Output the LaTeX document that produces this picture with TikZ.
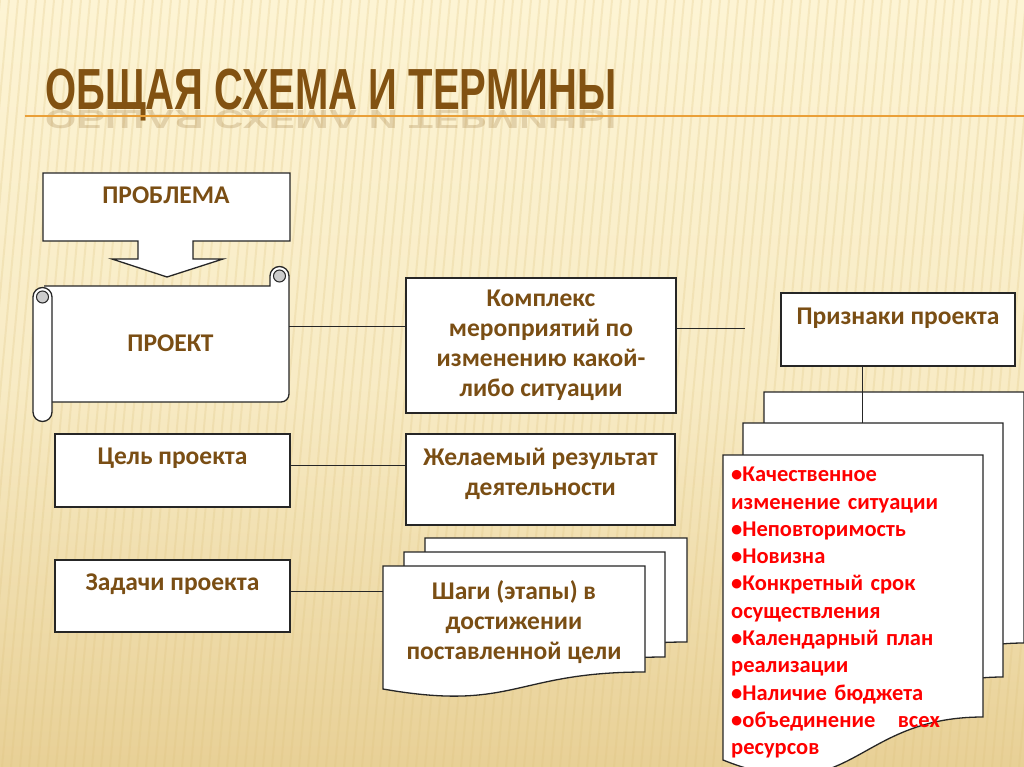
\documentclass[tikz,border=0pt]{standalone}
\usepackage{fontspec}
\setmainfont{Carlito}
\newfontfamily\titlefont{Liberation Sans}
\usetikzlibrary{positioning}

\definecolor{bgtop}{RGB}{253,244,212}
\definecolor{bgbot}{RGB}{232,208,150}
\definecolor{stripe}{RGB}{222,196,128}
\definecolor{txtbrown}{RGB}{122,78,20}
\definecolor{ttlbrown}{RGB}{130,82,18}
\definecolor{ttlline}{RGB}{234,160,56}
\definecolor{listred}{RGB}{255,0,0}

\tikzset{
  box/.style={draw=black!85, fill=white, line width=1.3pt, inner sep=0pt},
  lbl/.style={font=\bfseries\fontsize{25.5}{30}\selectfont, text=txtbrown, align=center, inner sep=2pt},
  doc/.style={draw=black!85, fill=white, line width=1.3pt},
  link/.style={draw=black!85, line width=1pt},
  redlist/.style={font=\bfseries\fontsize{22.5}{27.3}\selectfont, text=listred, align=left, text width=250pt, inner sep=0pt}
}

\begin{document}
\begin{tikzpicture}[x=1pt, y=-1pt]
    \useasboundingbox (0,0) rectangle (1024,767);
    \clip (0,0) rectangle (1024,767);
    %фон
    \shade[top color=bgtop, bottom color=bgbot, middle color=bgtop!75!bgbot] (0,0) rectangle (1024,767);
    \foreach \x in {0,9,...,1120}
        \draw[stripe, opacity=0.25, line width=2pt] (\x,0) -- (\x-70,767);
    %заголовок
    \node[anchor=base west, inner sep=0pt, text=ttlbrown, text opacity=0.2, font=\titlefont\bfseries\fontsize{58}{58}\selectfont] (titleR) at (45,111) {\scalebox{0.69}[-0.45]{ОБЩАЯ СХЕМА И ТЕРМИНЫ}};
    \node[anchor=base west, inner sep=0pt, text=ttlbrown, font=\titlefont\bfseries\fontsize{58}{58}\selectfont] (title) at (45,110) {\scalebox{0.69}[1]{ОБЩАЯ СХЕМА И ТЕРМИНЫ}};
    \draw[ttlline, line width=2.5pt] (25,116) -- (1024,116);
    %проблема со стрелкой
    \draw[doc] (43,173) -- (290,173) -- (290,241) -- (193,241) -- (193,259) -- (223,259) -- (167,277) -- (112,259) -- (138,259) -- (138,241) -- (43,241) -- cycle;
    \node[lbl] (problem) at (166,195) {ПРОБЛЕМА};
    %проект (свиток)
    \draw[doc] (52,402) -- (281,402) arc[start angle=90, end angle=0, radius=8] -- (289,276) arc[start angle=0, end angle=-180, radius=9.5] -- (270,286) -- (44,286);
    \filldraw[fill=black!20, draw=black!85, line width=1pt] (279.5,276) circle (6);
    \draw[doc] (33,297) -- (33,412) arc[start angle=180, end angle=0, radius=9.5] -- (52,297) arc[start angle=0, end angle=-180, radius=9.5] -- cycle;
    \filldraw[fill=black!20, draw=black!85, line width=1pt] (42.5,297) circle (6);
    \node[lbl, minimum width=237, minimum height=116] (project) at (170.5,343) {ПРОЕКТ};
    %цель и задачи
    \node[box, minimum width=235, minimum height=73] (goal) at (172.5,470.5) {};
    \node[lbl, below=12pt of goal.north] (goalT) {Цель проекта};
    \node[box, minimum width=235, minimum height=72] (tasks) at (172.5,596) {};
    \node[lbl, below=12pt of tasks.north] (tasksT) {Задачи проекта};
    %определения
    \node[box, lbl, minimum width=270, minimum height=135] (complex) at (541,345.5) {Комплекс\\мероприятий по\\изменению какой-\\либо ситуации};
    \node[box, minimum width=269, minimum height=91] (result) at (540.5,479.5) {};
    \node[lbl] (resultT) at ([yshift=6pt]result.center) {Желаемый результат\\деятельности};
    %шаги (стопка документов)
    \draw[doc] (425,538) -- (687,538) -- (687,642) .. controls (556,642) and (556,682) .. (425,659) -- cycle;
    \draw[doc] (404,552) -- (665,552) -- (665,657) .. controls (534.5,657) and (534.5,697) .. (404,674) -- cycle;
    \draw[doc] (383,566) -- (645,566) -- (645,672) .. controls (514,672) and (514,712) .. (383,689) -- cycle;
    \node[lbl] (steps) at (514,622) {Шаги (этапы) в\\достижении\\поставленной цели};
    \coordinate (stepsL) at (383,591);
    %признаки
    \node[box, minimum width=234, minimum height=73] (signs) at (898,329.5) {};
    \node[lbl, below=13pt of signs.north] (signsT) {Признаки проекта};
    \coordinate (signsL) at (745,328);
    \draw[doc] (764,392) -- (1024,392) -- (1024,643) .. controls (894,643) and (894,738) .. (764,684) -- cycle;
    \draw[doc] (743,423) -- (1003,423) -- (1003,677) .. controls (873,677) and (873,774) .. (743,719) -- cycle;
    \draw[doc] (723,455) -- (983,455) -- (983,717) .. controls (853,717) and (853,812) .. (723,760) -- cycle;
    \coordinate (featsTop) at (862,423);
    \node[redlist, anchor=north west] (feats) at (731,467) {•Качественное\\изменение ситуации\\•Неповторимость\\•Новизна\\•Конкретный срок\\осуществления\\•Календарный план\\реализации\\•Наличие бюджета\\•объединение \ \ всех\\ресурсов};
    %связи
    \draw[link] ([yshift=17pt]project.east) -- ([yshift=17pt]project.east -| complex.west);
    \draw[link] ([yshift=17pt]complex.east) -- ([yshift=17pt]complex.east -| signsL);
    \draw[link] ([yshift=5.5pt]goal.east) -- ([yshift=5.5pt]goal.east -| result.west);
    \draw[link] ([yshift=5pt]tasks.east) -- ([yshift=5pt]tasks.east -| stepsL);
    \draw[link] (signs.south -| featsTop) -- (featsTop);
\end{tikzpicture}
\end{document}
